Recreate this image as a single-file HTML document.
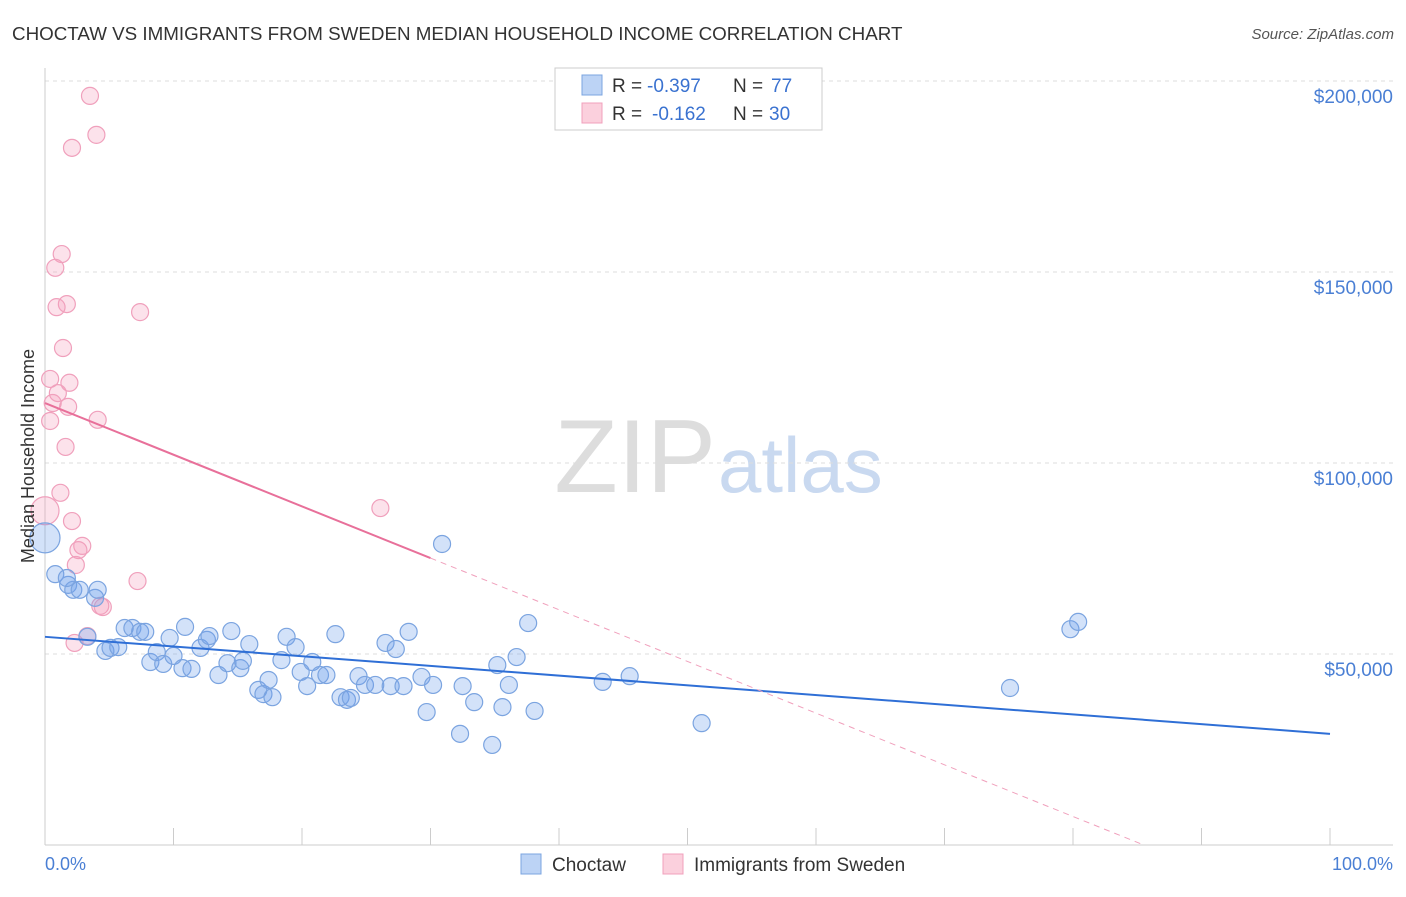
<!DOCTYPE html>
<html><head><meta charset="utf-8"><style>
body{margin:0;background:#fff;font-family:"Liberation Sans",sans-serif;}
svg text{font-family:"Liberation Sans",sans-serif;}
</style></head><body>
<svg id="c" width="1406" height="892" xmlns="http://www.w3.org/2000/svg">
<text x="12" y="40" font-size="18.8" fill="#333">CHOCTAW VS IMMIGRANTS FROM SWEDEN MEDIAN HOUSEHOLD INCOME CORRELATION CHART</text>
<text x="1394" y="39" font-size="15" fill="#555" text-anchor="end" font-style="italic">Source: ZipAtlas.com</text>
<text x="716" y="492" font-size="104" fill="#ddd" text-anchor="end" font-family="Liberation Serif">ZIP</text>
<text x="718" y="492" font-size="78" fill="#c9d9f0">atlas</text>
<g id="grid"></g><g id="pts"></g><g id="lines"></g>
<text transform="translate(34,456) rotate(-90)" font-size="18" fill="#333" text-anchor="middle">Median Household Income</text>
<text x="45" y="870" font-size="18" fill="#4a7fd4">0.0%</text>
<text x="1393" y="870" font-size="18" fill="#4a7fd4" text-anchor="end">100.0%</text>
<g>
<rect x="555" y="68" width="267" height="62" fill="#fff" stroke="#ccc"/>
<rect x="582" y="75" width="20" height="20" fill="#bcd3f5" stroke="#7ba4e0"/>
<rect x="582" y="103" width="20" height="20" fill="#fbd0dd" stroke="#f0a0bc"/>
<text x="612" y="92" font-size="19" fill="#333">R =</text>
<text x="647" y="92" font-size="19" fill="#3a72d0">-0.397</text>
<text x="733" y="92" font-size="19" fill="#333">N =</text>
<text x="771" y="92" font-size="19" fill="#3a72d0">77</text>
<text x="612" y="120" font-size="19" fill="#333">R =</text>
<text x="652" y="120" font-size="19" fill="#3a72d0">-0.162</text>
<text x="733" y="120" font-size="19" fill="#333">N =</text>
<text x="769" y="120" font-size="19" fill="#3a72d0">30</text>
</g>
<g>
<rect x="521" y="854" width="20" height="20" fill="#bcd3f5" stroke="#7ba4e0"/>
<text x="552" y="871" font-size="19" fill="#333">Choctaw</text>
<rect x="663" y="854" width="20" height="20" fill="#fbd0dd" stroke="#f0a0bc"/>
<text x="694" y="871" font-size="19" fill="#333">Immigrants from Sweden</text>
</g>
</svg>
<script>
const yTicks=[50,100,150,200];
const blueX=[0.8,1.8,2.2,1.7,2.7,3.9,4.1,3.3,4.7,5.1,5.7,6.2,6.8,7.4,7.8,8.2,8.7,9.2,9.7,10.0,10.7,10.9,11.4,12.1,12.6,12.8,13.5,14.2,14.5,15.2,15.4,15.9,16.6,17.0,17.4,17.7,18.4,18.8,19.5,19.9,20.4,20.8,21.4,21.9,22.6,23.0,23.5,23.8,24.4,24.9,25.7,26.5,26.9,27.3,27.9,28.3,29.3,29.7,30.2,30.9,32.3,32.5,33.4,34.8,35.2,35.6,36.1,36.7,37.6,38.1,43.4,45.5,51.1,75.1,79.8,80.4];
const blueY=[70.9,68.1,66.8,69.9,66.8,64.7,66.8,54.5,50.8,51.6,51.8,56.8,56.8,55.8,55.8,47.9,50.5,47.4,54.2,49.5,46.3,57.1,46.1,51.6,53.7,54.7,44.5,47.6,56.0,46.3,48.2,52.6,40.6,39.5,43.2,38.7,48.4,54.5,51.8,45.3,41.6,47.9,44.5,44.5,55.2,38.7,38.0,38.5,44.2,41.9,41.9,52.9,41.6,51.3,41.6,55.8,44.0,34.8,41.9,78.8,29.1,41.6,37.4,26.2,47.1,36.1,41.9,49.2,58.1,35.1,42.7,44.2,31.9,41.1,56.5,58.4];
const pinkX=[3.5,4.0,2.1,1.3,0.8,1.7,0.9,7.4,1.4,0.4,1.9,1.0,0.6,1.8,0.4,4.1,1.6,1.2,2.1,26.1,2.9,2.6,2.4,7.2,4.3,4.5,2.3,3.3];
const pinkY=[196.1,185.9,182.5,154.7,151.1,141.6,140.8,139.5,130.1,122.0,121.0,118.3,115.7,114.7,111.0,111.3,104.2,92.2,84.8,88.2,78.3,77.2,73.3,69.1,62.6,62.3,52.9,54.7];
const bigBlue=[0,80.4], bigPink=[0,87.5];
const blueLine=[54.5,29.1], pinkLine=[115.7,-1.353], pinkSolidEnd=30;
const X=v=>45+v*12.85, Y=v=>845-v*3.82;
const NS="http://www.w3.org/2000/svg";
function mk(t,a,p){const e=document.createElementNS(NS,t);for(const k in a)e.setAttribute(k,a[k]);p.appendChild(e);return e;}
const g=document.getElementById('grid');
yTicks.forEach(v=>{
 const l=mk('line',{x1:45,x2:1393,y1:Y(v),y2:Y(v),stroke:'#ddd','stroke-dasharray':'4,4'},g);
 
 
 const t=mk('text',{x:1393,y:Y(v)+22,'font-size':19,fill:'#4a7fd4','text-anchor':'end'},g);
 t.textContent='$'+(v*1000).toLocaleString('en-US');
 
 
});
mk('line',{x1:45,x2:45,y1:68,y2:845,stroke:'#ccc'},g);
mk('line',{x1:45,x2:1393,y1:845,y2:845,stroke:'#ccc'},g);
for(let i=0;i<=10;i++){const l=mk('line',{x1:X(i*10),x2:X(i*10),y1:828,y2:845,stroke:'#ccc'},g);
 
 }
const p=document.getElementById('pts');
function dot(x,y,r,f,s,n){const c=mk('circle',{cx:X(x),cy:Y(y),r:r,fill:f,stroke:s,'stroke-width':1.2},p);
 
 }
pinkX.forEach((x,i)=>dot(x,pinkY[i],8.5,'rgba(245,160,190,0.3)','#f0a0bc','sweden-point'));
dot(bigPink[0],bigPink[1],14,'rgba(245,160,190,0.3)','#f0a0bc','sweden-point');
blueX.forEach((x,i)=>dot(x,blueY[i],8.5,'rgba(110,160,235,0.3)','#7ba4e0','choctaw-point'));
dot(bigBlue[0],bigBlue[1],15,'rgba(110,160,235,0.3)','#7ba4e0','choctaw-point');
const L=document.getElementById('lines');
let a=mk('line',{x1:X(0),y1:Y(blueLine[0]),x2:X(100),y2:Y(blueLine[1]),stroke:'#2f6fd6','stroke-width':2},L);


const py=x=>pinkLine[0]+pinkLine[1]*x;
a=mk('line',{x1:X(0),y1:Y(py(0)),x2:X(pinkSolidEnd),y2:Y(py(pinkSolidEnd)),stroke:'#e8709a','stroke-width':2},L);


const xz=-pinkLine[0]/pinkLine[1];
a=mk('line',{x1:X(pinkSolidEnd),y1:Y(py(pinkSolidEnd)),x2:X(xz),y2:Y(0),stroke:'#f0a0bc','stroke-width':1,'stroke-dasharray':'6,5'},L);


</script>
</body></html>
